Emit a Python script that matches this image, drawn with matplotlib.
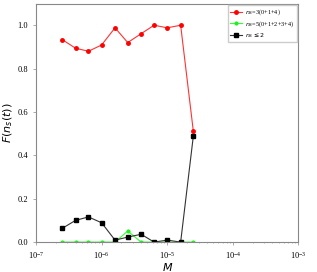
import matplotlib
matplotlib.use('Agg')
import matplotlib.pyplot as plt
import numpy as np

plt.rcParams['font.family'] = ['Liberation Serif', 'DejaVu Serif']

# mass values (log spaced)
M = [2.5e-7, 4.0e-7, 6.3e-7, 1.0e-6, 1.6e-6, 2.5e-6, 4.0e-6, 6.3e-6, 1.0e-5, 1.6e-5, 2.5e-5]

F_ns3 = [0.934, 0.894, 0.880, 0.909, 0.988, 0.920, 0.961, 1.000, 0.988, 1.000, 0.510]
F_ns5 = [0.0, 0.0, 0.0, 0.0, 0.0, 0.051, 0.0, 0.0, 0.0, 0.0, 0.0]
F_le2 = [0.063, 0.100, 0.116, 0.089, 0.009, 0.023, 0.036, 0.0, 0.009, 0.0, 0.490]

fig = plt.figure(figsize=(3.17, 2.72), dpi=100)
ax = fig.add_axes([0.1136, 0.110, 0.828, 0.877])

ax.plot(M, F_ns3, color='#ff3333', marker='o', markersize=2.5, lw=0.8,
        markerfacecolor='red', markeredgecolor='red', label=r'$n_S$=3(0+1+4)')
ax.plot(M, F_ns5, color='#33ff33', marker='o', markersize=2.0, lw=0.8,
        markerfacecolor='#22ee22', markeredgecolor='#22ee22', label=r'$n_S$=5(0+1+2+3+4)')
ax.plot(M, F_le2, color='#333333', marker='s', markersize=2.5, lw=0.8,
        markerfacecolor='black', markeredgecolor='black', label=r'$n_S\leq 2$')

ax.set_xscale('log')
ax.set_xlim(1e-7, 1e-3)
ax.set_ylim(0, 1.1)
ax.set_yticks([0.0, 0.2, 0.4, 0.6, 0.8, 1.0])
ax.tick_params(labelsize=6, length=2, width=0.5, color='#888888')
ax.tick_params(which='minor', length=1, width=0.4, color='#888888')
for s in ax.spines.values():
    s.set_color('#888888')
    s.set_linewidth(0.8)

ax.set_xlabel(r'$M$', fontsize=8, labelpad=0)
ax.set_ylabel(r'$F(n_s(t))$', fontsize=8, labelpad=2)

ax.legend(loc='upper right', fontsize=4.5, handlelength=1.8, handletextpad=0.6,
          borderpad=0.4, labelspacing=0.3, borderaxespad=0.25, framealpha=1,
          edgecolor='#cccccc', fancybox=False)

fig.savefig('out.png', dpi=100)
